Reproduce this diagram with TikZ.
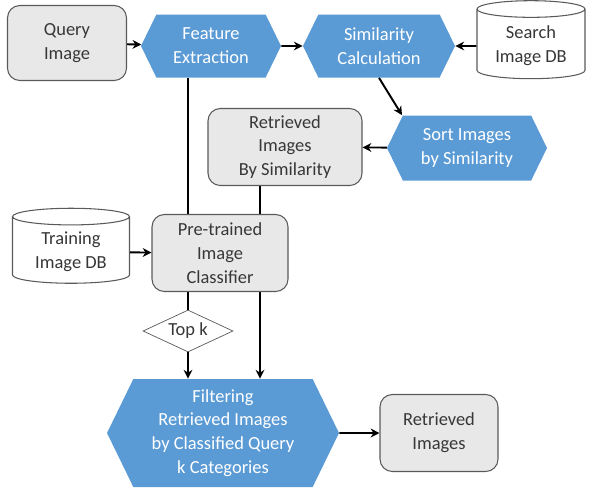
\documentclass[tikz,border=0pt]{standalone}
\usepackage{fontspec}
\setmainfont{Carlito}
\definecolor{stepblue}{RGB}{91, 155, 213}
\definecolor{boxgray}{RGB}{232, 232, 232}
\definecolor{edgegray}{RGB}{90, 90, 90}
\definecolor{textgray}{RGB}{55, 55, 55}
\usetikzlibrary{shapes.geometric, shapes.symbols, arrows.meta, backgrounds}
\tikzset{
  proc/.style={signal, signal to=east and west, signal pointer angle=128, fill=stepblue,
    text=white, align=center, inner sep=1pt},
  databox/.style={rounded corners=7pt, draw=edgegray, fill=boxgray, text=textgray,
    align=center, line width=0.6pt},
  store/.style={cylinder, shape border rotate=90, aspect=0.2, draw=edgegray, fill=white,
    text=textgray, align=center, line width=0.6pt},
  flow/.style={line width=1.1pt, -{Stealth[length=5pt, width=5pt]}},
  link/.style={line width=1.1pt}
}

\begin{document}
\begin{tikzpicture}[font=\fontsize{10.5}{13.5}\selectfont]
  \useasboundingbox (0, 0) rectangle (11.84, -9.84);

  % Top row
  \node[databox, minimum width=2.38cm, minimum height=1.5cm] (query) at (1.34, -0.86) {Query\\Image};
  \node[proc, minimum width=2.8cm, minimum height=1.26cm] (feat) at (4.22, -0.92) {Feature\\Extraction};
  \node[proc, minimum width=3.04cm, minimum height=1.26cm] (sim) at (7.58, -0.92) {Similarity\\Calculation};
  \node[store, minimum width=2.16cm, minimum height=1.56cm] (searchdb) at (10.62, -0.92) {Search\\Image DB};

  % Ranking
  \node[proc, minimum width=3.2cm, minimum height=1.3cm] (sort) at (9.34, -2.96) {Sort Images\\by Similarity};
  \node[databox, minimum width=3.08cm, minimum height=1.54cm] (retr) at (5.70, -2.94) {Retrieved\\Images\\By Similarity};

  % Classifier
  \node[databox, minimum width=2.72cm, minimum height=1.54cm] (clf) at (4.40, -5.06) {Pre-trained\\Image\\Classifier};
  \node[store, minimum width=2.34cm, minimum height=1.5cm] (traindb) at (1.42, -5.04) {Training\\Image DB};
  \node[diamond, aspect=2.2, draw=edgegray, fill=white, text=textgray, inner sep=1pt,
    minimum width=1.8cm, minimum height=0.84cm] (topk) at (3.76, -6.62) {Top k};

  % Output
  \node[proc, minimum width=4.64cm, minimum height=2.16cm] (filt) at (4.46, -8.66) {Filtering\\Retrieved Images\\by Classified Query\\k Categories};
  \node[databox, minimum width=2.36cm, minimum height=1.54cm] (result) at (8.78, -8.66) {Retrieved\\Images};

  \draw[flow] (query) -- (feat);
  \draw[flow] (feat) -- (sim);
  \draw[flow] (searchdb) -- (sim);
  \draw[flow] (sim.south) -- ([xshift=-1.3cm]sort.north);
  \draw[flow] (sort) -- (retr);
  \draw[flow] (traindb) -- (clf);
  \draw[flow] (topk.south) -- (topk.south |- filt.north);
  \draw[flow] (filt) -- (result);
  \begin{scope}[on background layer]
    \draw[link] (topk.north |- feat.south) -- (topk.north);
    \draw[flow] ([xshift=-0.5cm]retr.south) -- ([xshift=-0.5cm]retr.south |- filt.north);
  \end{scope}
\end{tikzpicture}
\end{document}
